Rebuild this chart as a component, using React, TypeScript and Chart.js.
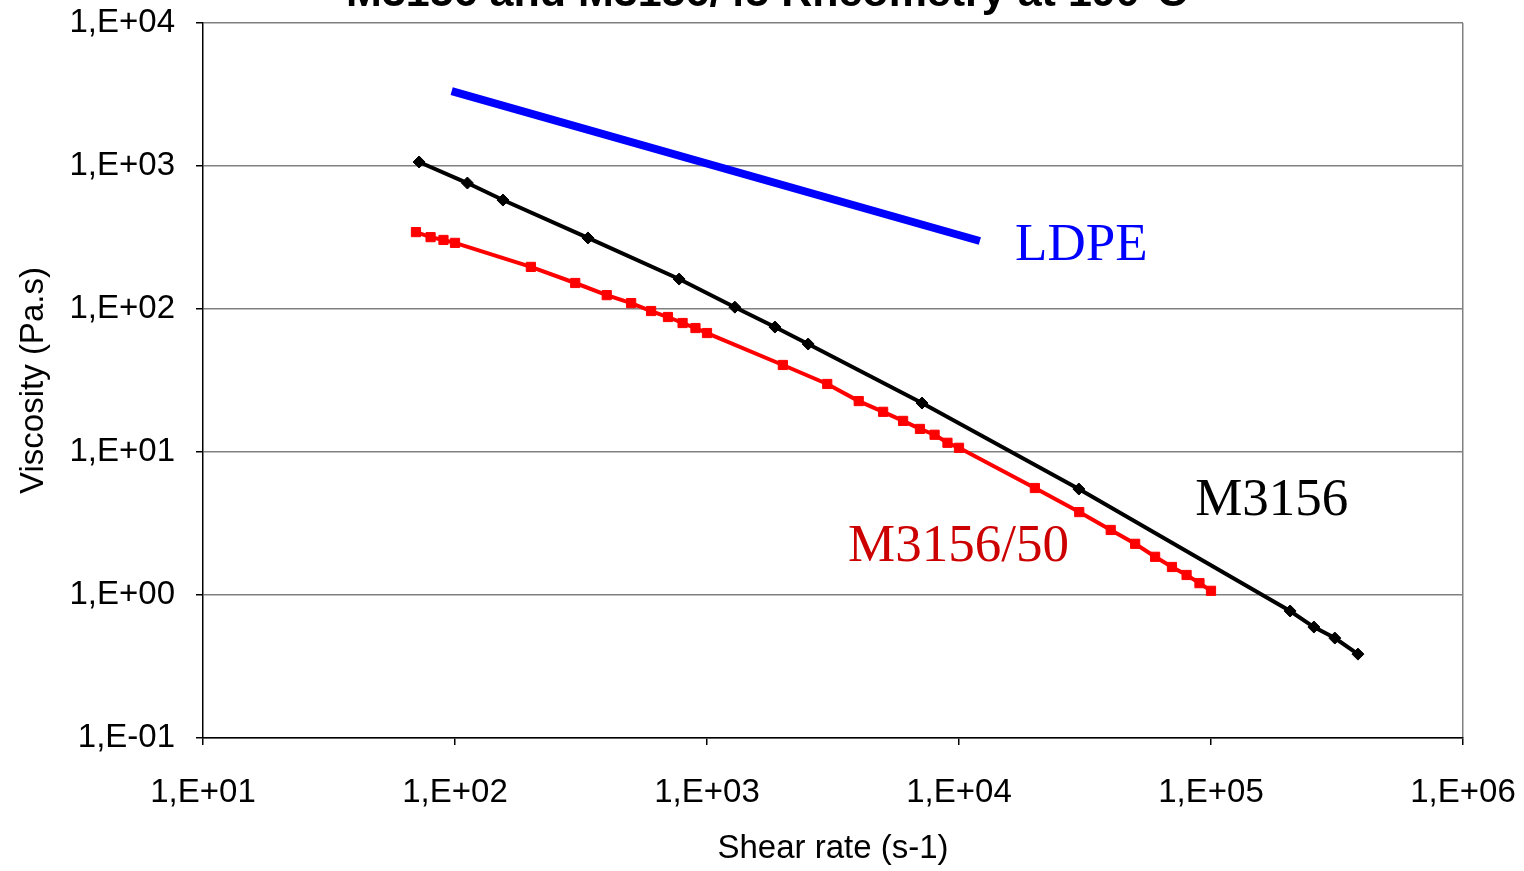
import React, { useEffect, useRef } from "react";
import { Chart, registerables } from "chart.js";

Chart.register(...registerables);

// ---- Data ----
const titleText = "M3156 and M3156/45 Rheometry at 190°C";

const m3156Shear = [72, 112, 155, 337, 775, 1290, 1860, 2520, 7130, 29900, 206000, 256000, 310000, 383000];
const m3156Visc = [1067, 760, 578, 314, 162, 103, 74.8, 56.9, 22.0, 5.51, 0.773, 0.597, 0.5, 0.386];

const m3156_50Shear = [70, 80, 90, 100, 200, 300, 400, 500, 600, 700, 800, 900, 1000, 2000, 3000, 4000, 5000, 6000, 7000, 8000, 9000, 10000, 20000, 30000, 40000, 50000, 60000, 70000, 80000, 90000, 100000];
const m3156_50Visc = [345, 318, 304, 290, 197, 152, 125, 110, 96.8, 87.9, 79.8, 73.6, 67.9, 40.6, 29.9, 22.7, 19.1, 16.5, 14.5, 13.2, 11.6, 10.7, 5.6, 3.8, 2.85, 2.28, 1.85, 1.57, 1.38, 1.21, 1.07];

const ldpeShear = [97, 12100];
const ldpeVisc = [3340, 299];

const xTickValues = [1e1, 1e2, 1e3, 1e4, 1e5, 1e6];
const xTickLabels = ["1,E+01", "1,E+02", "1,E+03", "1,E+04", "1,E+05", "1,E+06"];
const yTickValues = [1e-1, 1e0, 1e1, 1e2, 1e3, 1e4];
const yTickLabels = ["1,E-01", "1,E+00", "1,E+01", "1,E+02", "1,E+03", "1,E+04"];

const seriesLabels = ["LDPE", "M3156", "M3156/50"];
const labelShear = [16700, 86500, 3630];
const labelVisc = [220, 3.62, 1.73];
const labelColors = ["#0000FF", "#000000", "#CC0000"];

const toPts = (xs: number[], ys: number[]) => xs.map((x, i) => ({ x, y: ys[i] }));

export default function App() {
  const ref = useRef<HTMLCanvasElement | null>(null);

  useEffect(() => {
    if (!ref.current) return;
    document.body.style.margin = "0";

    const annotations = {
      id: "annotations",
      afterDatasetsDraw(chart: any) {
        const { ctx, scales } = chart;
        ctx.save();
        ctx.font = "53px 'Liberation Serif', 'Times New Roman', serif";
        ctx.textAlign = "left";
        ctx.textBaseline = "alphabetic";
        seriesLabels.forEach((t, i) => {
          ctx.fillStyle = labelColors[i];
          ctx.fillText(t, scales.x.getPixelForValue(labelShear[i]), scales.y.getPixelForValue(labelVisc[i]));
        });
        ctx.font = "bold 43px 'Liberation Sans', Arial, sans-serif";
        ctx.fillStyle = "#000";
        ctx.textAlign = "center";
        ctx.fillText(titleText, 767, 6);
        ctx.restore();
      },
    };

    const setTicks = (vals: number[]) => (scale: any) => {
      scale.ticks = vals.map((v) => ({ value: v }));
    };

    const tickFont = { family: "'Liberation Sans', Arial, sans-serif", size: 33 };

    const chart = new Chart(ref.current, {
      type: "scatter",
      data: {
        datasets: [
          {
            label: "LDPE",
            data: toPts(ldpeShear, ldpeVisc),
            showLine: true,
            borderColor: "#0000FF",
            borderWidth: 8,
            pointRadius: 0,
            tension: 0,
            borderCapStyle: "butt",
          },
          {
            label: "M3156",
            data: toPts(m3156Shear, m3156Visc),
            showLine: true,
            borderColor: "#000000",
            backgroundColor: "#000000",
            borderWidth: 4,
            pointStyle: "rectRot",
            pointRadius: 6,
            pointBorderWidth: 1,
            tension: 0,
          },
          {
            label: "M3156/50",
            data: toPts(m3156_50Shear, m3156_50Visc),
            showLine: true,
            borderColor: "#FF0000",
            backgroundColor: "#FF0000",
            borderWidth: 4,
            pointStyle: "rect",
            pointRadius: 6.5,
            pointBorderWidth: 1,
            tension: 0,
          },
        ],
      },
      options: {
        animation: false,
        responsive: false,
        maintainAspectRatio: false,
        layout: { padding: { top: 23, right: 61, left: 0, bottom: 0 } },
        plugins: { legend: { display: false }, tooltip: { enabled: false }, title: { display: false } },
        scales: {
          x: {
            type: "logarithmic",
            min: 1e1,
            max: 1e6,
            afterBuildTicks: setTicks(xTickValues),
            afterFit: (s: any) => {
              s.height = 133;
              s.paddingLeft = 0;
              s.paddingRight = 0;
            },
            border: { color: "#000", width: 1.5 },
            grid: {
              color: (c: any) => (c.tick && c.tick.value === 1e6 ? "#808080" : "rgba(0,0,0,0)"),
              lineWidth: 1.5,
              tickColor: "#000",
              tickLength: 7,
              drawTicks: true,
            },
            ticks: {
              color: "#000",
              padding: 28,
              maxRotation: 0,
              autoSkip: false,
              font: tickFont,
              callback: (v: any) => {
                const i = xTickValues.indexOf(Number(v));
                return i >= 0 ? xTickLabels[i] : "";
              },
            },
            title: {
              display: true,
              text: "Shear rate (s-1)",
              color: "#000",
              font: tickFont,
              padding: { top: 0, bottom: 2 },
            },
          },
          y: {
            type: "logarithmic",
            min: 1e-1,
            max: 1e4,
            afterBuildTicks: setTicks(yTickValues),
            afterFit: (s: any) => {
              s.width = 203;
              s.paddingTop = 0;
              s.paddingBottom = 0;
            },
            border: { color: "#000", width: 1.5 },
            grid: {
              color: "#808080",
              lineWidth: 1.5,
              tickColor: "#000",
              tickLength: 7,
              drawTicks: true,
            },
            ticks: {
              color: "#000",
              padding: 21,
              autoSkip: false,
              font: tickFont,
              callback: (v: any) => {
                const i = yTickValues.indexOf(Number(v));
                return i >= 0 ? yTickLabels[i] : "";
              },
            },
            title: {
              display: true,
              text: "Viscosity (Pa.s)",
              color: "#000",
              font: tickFont,
              padding: { top: 14, bottom: 0 },
            },
          },
        },
      },
      plugins: [annotations],
    } as any);

    return () => chart.destroy();
  }, []);

  return (
    <div style={{ position: "absolute", left: 0, top: 0, width: 1524, height: 871, background: "#fff" }}>
      <canvas ref={ref} width={1524} height={871} style={{ width: 1524, height: 871, display: "block" }} />
    </div>
  );
}
